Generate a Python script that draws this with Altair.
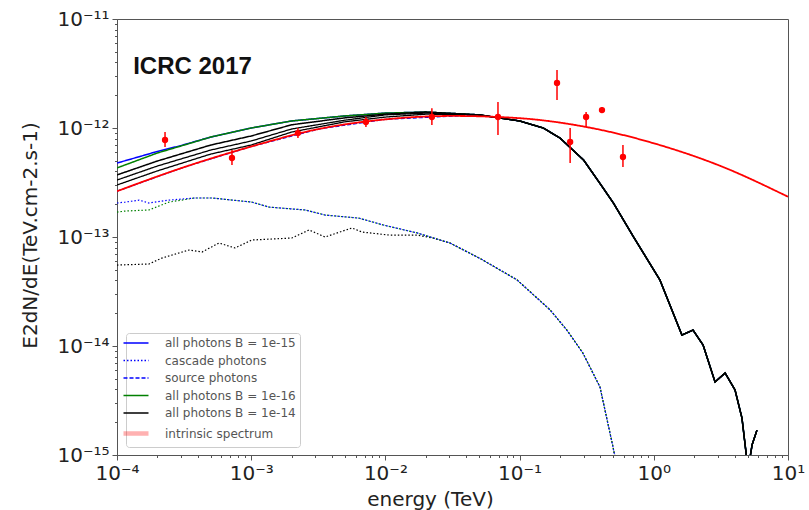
import altair as alt
import pandas as pd

# ---------------- data ----------------
LEGEND = ["all photons B = 1e-15", "cascade photons", "source photons",
          "all photons B = 1e-16", "all photons B = 1e-14", "intrinsic spectrum"]
COLORS = ["#0000ff", "#0000ff", "#0000ff", "#008000", "#000000", "#ff0000"]
DASHES = [[1, 0], [1.5, 2], [4, 2], [1, 0], [1, 0], [1, 0]]

# intrinsic spectrum
intr_E = [1e-4, 3.16e-4, 1e-3, 3.16e-3, 1e-2, 3.16e-2, 0.1, 0.316, 1.0, 3.16, 10.0]
intr_F = [2.63e-13, 4.37e-13, 6.76e-13, 9.77e-13, 1.20e-12, 1.29e-12, 1.23e-12,
          1.02e-12, 7.24e-13, 4.47e-13, 2.34e-13]

# high-energy tail common to all "all photons" curves
hi_E = [5e-2, 0.1, 0.15, 0.2, 0.3, 0.4, 0.5, 0.7, 1.0, 1.11, 1.62, 1.96, 2.33,
        2.86, 3.40, 4.03, 4.54, 5.04, 5.40, 5.87]
hi_F = [1.32e-12, 1.16e-12, 1.0e-12, 8.09e-13, 5.08e-13, 3.06e-13, 2.05e-13,
        1.02e-13, 4.98e-14, 4.04e-14, 1.26e-14, 1.40e-14, 1.02e-14, 4.68e-15,
        5.65e-15, 3.95e-15, 2.18e-15, 7.3e-16, 1.24e-15, 1.69e-15]

# low-energy parts of the "all photons" curves
blue_lo_E = [1e-4, 1.5e-4, 2e-4, 3e-4, 5e-4, 1e-3, 2e-3, 5e-3, 1e-2, 2e-2]
blue_lo_F = [4.77e-13, 5.5e-13, 6.1e-13, 6.9e-13, 8.26e-13, 1.0e-12, 1.16e-12,
             1.29e-12, 1.37e-12, 1.40e-12]
green_lo_E = [1e-4, 2e-4, 3e-4, 5e-4, 1e-3, 2e-3, 5e-3, 1e-2, 2e-2]
green_lo_F = [4.30e-13, 5.90e-13, 6.84e-13, 8.26e-13, 1.0e-12, 1.16e-12,
              1.29e-12, 1.37e-12, 1.40e-12]
black_lo_E = [1e-4, 2e-4, 5e-4, 1e-3, 2e-3, 5e-3, 1e-2, 2e-2]
black_lo_F = [3.71e-13, 4.98e-13, 6.98e-13, 8.45e-13, 1.07e-12, 1.24e-12, 1.34e-12, 1.40e-12]
black2_lo_F = [3.33e-13, 4.48e-13, 6.28e-13, 7.60e-13, 9.79e-13, 1.18e-12, 1.32e-12, 1.37e-12]
black3_lo_F = [3.00e-13, 4.04e-13, 5.77e-13, 6.98e-13, 9.18e-13, 1.14e-12, 1.26e-12, 1.34e-12]

# cascade photons
casc_blue_E = [1.0e-4, 1.15e-4, 1.46e-4, 1.73e-4, 2.44e-4, 3.81e-4, 5.11e-4, 1.01e-3,
               1.36e-3, 2.52e-3, 3.55e-3, 6.35e-3, 9.60e-3, 1.72e-2]
casc_blue_F = [2.05e-13, 2.09e-13, 2.18e-13, 2.05e-13, 2.18e-13, 2.28e-13, 2.28e-13,
               2.09e-13, 1.88e-13, 1.77e-13, 1.59e-13, 1.49e-13, 1.29e-13, 1.09e-13]
casc_green_E = [1.0e-4, 1.15e-4, 1.73e-4, 2.44e-4]
casc_green_F = [1.69e-13, 1.73e-13, 1.77e-13, 2.09e-13]
casc_black_E = [1.0e-4, 1.73e-4, 2.16e-4, 3.44e-4, 4.30e-4, 5.75e-4, 7.57e-4, 1.01e-3,
                2.01e-3, 2.70e-3, 3.55e-3, 5.64e-3, 6.70e-3, 1.08e-2, 1.72e-2, 2.26e-2]
casc_black_F = [5.53e-14, 5.65e-14, 6.41e-14, 7.60e-14, 7.28e-14, 8.81e-14, 7.93e-14,
                9.38e-14, 9.79e-14, 1.16e-13, 1.0e-13, 1.21e-13, 1.11e-13, 1.04e-13,
                1.04e-13, 9.79e-14]
casc_tail_E = [3.03e-2, 5.33e-2, 9.57e-2, 0.169, 0.225, 0.296, 0.397, 0.497, 0.54]
casc_tail_F = [8.81e-14, 6.15e-14, 4.04e-14, 2.14e-14, 1.40e-14, 8.63e-15, 4.21e-15,
               1.18e-15, 7.0e-16]

# measured points with error bars
pt_E = [2.28e-4, 7.19e-4, 2.23e-3, 7.16e-3, 2.22e-2, 6.9e-2, 0.190, 0.238, 0.313, 0.411, 0.589]
pt_F = [7.76e-13, 5.31e-13, 8.99e-13, 1.135e-12, 1.262e-12, 1.262e-12, 2.59e-12,
        7.45e-13, 1.262e-12, 1.46e-12, 5.42e-13]
pt_lo = [6.70e-13, 4.58e-13, 8.09e-13, 1.02e-12, 1.067e-12, 8.63e-13, 1.81e-12,
         4.78e-13, 1.02e-12, 1.37e-12, 4.39e-13]
pt_hi = [9.18e-13, 6.28e-13, 1.0e-12, 1.26e-12, 1.52e-12, 1.73e-12, 3.40e-12,
         1.0e-12, 1.40e-12, 1.56e-12, 6.98e-13]

X_EXPS = [-4, -3, -2, -1, 0, 1]
Y_EXPS = [-15, -14, -13, -12, -11]
x_ticks = [m * 10.0 ** e for e in range(-4, 1) for m in range(1, 10)] + [10.0]
y_ticks = [m * 10.0 ** e for e in range(-15, -11) for m in range(1, 10)] + [1e-11]

# ---------------- helpers ----------------
SUP = str.maketrans("-0123456789", "⁻⁰¹²³⁴⁵⁶⁷⁸⁹")


def label_expr(exps):
    parts = [f"abs(log(datum.value)/LN10 - ({e})) < 0.01 ? '10{str(e).translate(SUP)}'"
             for e in exps]
    return " : ".join(parts) + " : ''"


MAJOR = "abs(log(datum.value)/LN10 - round(log(datum.value)/LN10)) < 0.01"
tick_size = {"condition": {"test": MAJOR, "value": 5}, "value": 2.5}

x_axis = alt.Axis(values=x_ticks, labelExpr=label_expr(X_EXPS), tickSize=tick_size,
                  grid=False, title="energy (TeV)", labelOverlap=False, labelFlush=False,
                  labelPadding=3, titleX=313, titleY=44, titleBaseline="middle",
                  titleAnchor="start", titleAlign="center")
y_axis = alt.Axis(values=y_ticks, labelExpr=label_expr(Y_EXPS), tickSize=tick_size,
                  grid=False, title="E2dN/dE(TeV.cm-2.s-1)", labelOverlap=False,
                  labelFlush=False, labelPadding=3, titleX=-87, titleY=216,
                  titleAngle=270, titleAlign="center", titleBaseline="middle",
                  titleAnchor="start")

X = alt.X("E:Q", scale=alt.Scale(type="log", domain=[1e-4, 10], nice=False), axis=x_axis)
Y = alt.Y("F:Q", scale=alt.Scale(type="log", domain=[1e-15, 1e-11], nice=False), axis=y_axis)

legend = alt.Legend(
    title=None, orient="none", legendX=9, legendY=314, symbolType="stroke",
    symbolSize=625,
    symbolStrokeWidth=alt.ExprRef("datum.label === 'intrinsic spectrum' ? 4.5 : 1.6"),
    symbolOpacity=alt.ExprRef("datum.label === 'intrinsic spectrum' ? 0.3 : 1"),
    labelFontSize=12, labelFont="DejaVu Sans",
    labelColor="#555555", fillColor="white", strokeColor="#cccccc", cornerRadius=3,
    padding=4, rowPadding=5.5, labelOffset=23,
)
COLOR = alt.Color("series:N", scale=alt.Scale(domain=LEGEND, range=COLORS), legend=legend)
DASH = alt.StrokeDash("series:N", scale=alt.Scale(domain=LEGEND, range=DASHES), legend=legend)


def frame(E, F, series=""):
    return pd.DataFrame({"E": E, "F": F, "series": series})


def series_layer(df, width=1.5, interpolate="linear"):
    return alt.Chart(df).mark_line(clip=True, strokeWidth=width, interpolate=interpolate).encode(
        x=X, y=Y, color=COLOR, strokeDash=DASH)


def plain_layer(df, color, dash, width=1.2):
    return alt.Chart(df).mark_line(clip=True, strokeWidth=width, color=color,
                                   strokeDash=dash).encode(x=X, y=Y)


layers = []
# cascade photons (dotted)
layers.append(plain_layer(frame(casc_black_E + casc_tail_E, casc_black_F + casc_tail_F),
                          "#000000", [1.5, 2]))
layers.append(plain_layer(frame(casc_green_E + casc_blue_E[5:] + casc_tail_E,
                                casc_green_F + casc_blue_F[5:] + casc_tail_F),
                          "#008000", [1.5, 2]))
layers.append(series_layer(frame(casc_blue_E + casc_tail_E, casc_blue_F + casc_tail_F,
                                 "cascade photons"), width=1.2))
# source photons (dashed, hidden under others)
layers.append(series_layer(frame(intr_E[:5] + hi_E, intr_F[:5] + hi_F, "source photons"),
                           width=1.2))
# all photons
layers.append(series_layer(frame(blue_lo_E + hi_E, blue_lo_F + hi_F, "all photons B = 1e-15")))
layers.append(series_layer(frame(green_lo_E + hi_E, green_lo_F + hi_F, "all photons B = 1e-16")))
layers.append(plain_layer(frame(black_lo_E + hi_E, black3_lo_F + hi_F), "#000000", [1, 0], 1.3))
layers.append(plain_layer(frame(black_lo_E + hi_E, black2_lo_F + hi_F), "#000000", [1, 0], 1.3))
layers.append(series_layer(frame(black_lo_E + hi_E, black_lo_F + hi_F, "all photons B = 1e-14")))
# intrinsic spectrum
layers.append(series_layer(frame(intr_E, intr_F, "intrinsic spectrum"), width=1.8,
                           interpolate="monotone"))

pts = pd.DataFrame({"E": pt_E, "F": pt_F, "lo": pt_lo, "hi": pt_hi})
layers.append(alt.Chart(pts).mark_rule(color="#ff0000", strokeWidth=1.5).encode(
    x=X, y=alt.Y("lo:Q", scale=alt.Scale(type="log", domain=[1e-15, 1e-11], nice=False),
                 axis=y_axis), y2="hi:Q"))
layers.append(alt.Chart(pts).mark_circle(color="#ff0000", size=40, opacity=1).encode(x=X, y=Y))

note = pd.DataFrame({"E": [1.32e-4], "F": [3.66e-12], "t": ["ICRC 2017"]})
layers.append(alt.Chart(note).mark_text(align="left", baseline="middle", fontSize=24,
                                        fontWeight="bold", font="Liberation Sans",
                                        color="#111111").encode(x=X, y=Y, text="t:N"))

chart = alt.layer(*layers).properties(
    width=671, height=436,
    autosize=alt.AutoSizeParams(type="none"),
    padding={"left": 117, "top": 19, "right": 21, "bottom": 55},
).configure(font="DejaVu Sans").configure_view(
    stroke="#555555", strokeWidth=1
).configure_axis(
    labelFont="DejaVu Sans", labelFontSize=20, labelColor="#222222",
    titleFont="DejaVu Sans", titleFontSize=20, titleColor="#222222", titleFontWeight="normal",
    domainColor="#555555", tickColor="#555555", tickWidth=1,
)

chart.save("out.html", embed_options={"renderer": "svg", "actions": False})
